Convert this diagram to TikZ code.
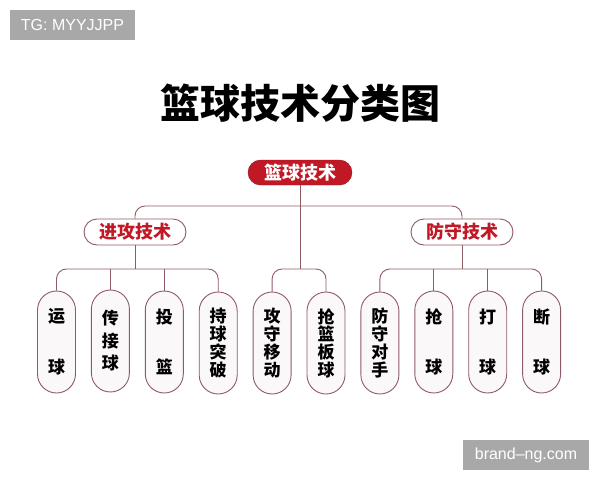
\documentclass[tikz,border=0pt]{standalone}
\usepackage{fontspec}
\setmainfont{Noto Sans CJK SC}
\newfontfamily\wmfont{Liberation Sans}
\usetikzlibrary{positioning}
\definecolor{bbred}{HTML}{C01825}
\definecolor{bbline}{HTML}{8E5A63}
\definecolor{bbleaf}{HTML}{FAF8F8}
\definecolor{wmgray}{HTML}{A8A8A8}

\begin{document}
\begin{tikzpicture}[x=1pt, y=-1pt,
  root/.style={draw=bbred!80!black, fill=bbred, text=white, rounded corners=12.5pt, minimum width=104pt, minimum height=25pt, inner sep=0pt, font=\fontsize{18}{18}\selectfont\bfseries},
  grp/.style={draw=bbline, line width=0.9pt, fill=white, text=bbred, rounded corners=13pt, minimum width=102pt, minimum height=26pt, inner sep=0pt, font=\fontsize{18}{18}\selectfont\bfseries},
  leaf/.style={draw=bbline, line width=0.9pt, fill=bbleaf, rounded corners=19pt, minimum width=38pt, minimum height=102pt, inner sep=0pt, align=center, font=\fontsize{17}{17.7}\selectfont\bfseries},
  link/.style={draw=bbline, line width=0.9pt, rounded corners=10pt},
  wm/.style={fill=wmgray, text=white, inner sep=0pt, font=\wmfont\fontsize{16}{16}\selectfont}]
\useasboundingbox (0,0) rectangle (600,480);
% watermarks
\node[wm, minimum width=125pt, minimum height=30pt] (tg) at (72.5,25) {TG: MYYJJPP};
\node[wm, minimum width=126pt, minimum height=30pt] (web) at (526,455) {brand–ng.com};
% title
\node[font=\fontsize{40}{40}\selectfont\bfseries] (title) at (300,103) {篮球技术分类图};
% tree
\node[root] (top) at (300,172.5) {篮球技术};
\node[grp] (atk) at (135,232) {进攻技术};
\node[grp] (def) at (462,232) {防守技术};
\node[leaf] (l1) at (56.5,342) {运\\[33pt]球};
\node[leaf] (l2) at (110.4,341) {传\\[4.8pt]接\\[4.8pt]球};
\node[leaf] (l3) at (164.3,342) {投\\[33pt]篮};
\node[leaf] (l4) at (218.2,343) {持\\球\\突\\破};
\node[leaf] (l5) at (272.1,343) {攻\\守\\移\\动};
\node[leaf] (l6) at (326.0,343) {抢\\篮\\板\\球};
\node[leaf] (l7) at (379.9,343) {防\\守\\对\\手};
\node[leaf] (l8) at (433.8,342) {抢\\[33pt]球};
\node[leaf] (l9) at (487.7,342) {打\\[33pt]球};
\node[leaf] (l10) at (541.6,342) {断\\[33pt]球};
\coordinate (jt) at (300,206);
\coordinate (jm) at (300,269);
\coordinate (ja) at (135,269);
\coordinate (jd) at (462,269);
\draw[link] (atk.north) |- (jt) -| (def.north);
\draw[link] (top.south) -- (jm);
\draw[link] (l5.north) |- (jm) -| (l6.north);
\draw[link] (atk.south) -- (ja);
\draw[link] (l1.north) |- (ja) -| (l4.north);
\draw[link] (l2.north) -- (l2.north |- ja);
\draw[link] (l3.north) -- (l3.north |- ja);
\draw[link] (def.south) -- (jd);
\draw[link] (l7.north) |- (jd) -| (l10.north);
\draw[link] (l8.north) -- (l8.north |- jd);
\draw[link] (l9.north) -- (l9.north |- jd);
\end{tikzpicture}
\end{document}
